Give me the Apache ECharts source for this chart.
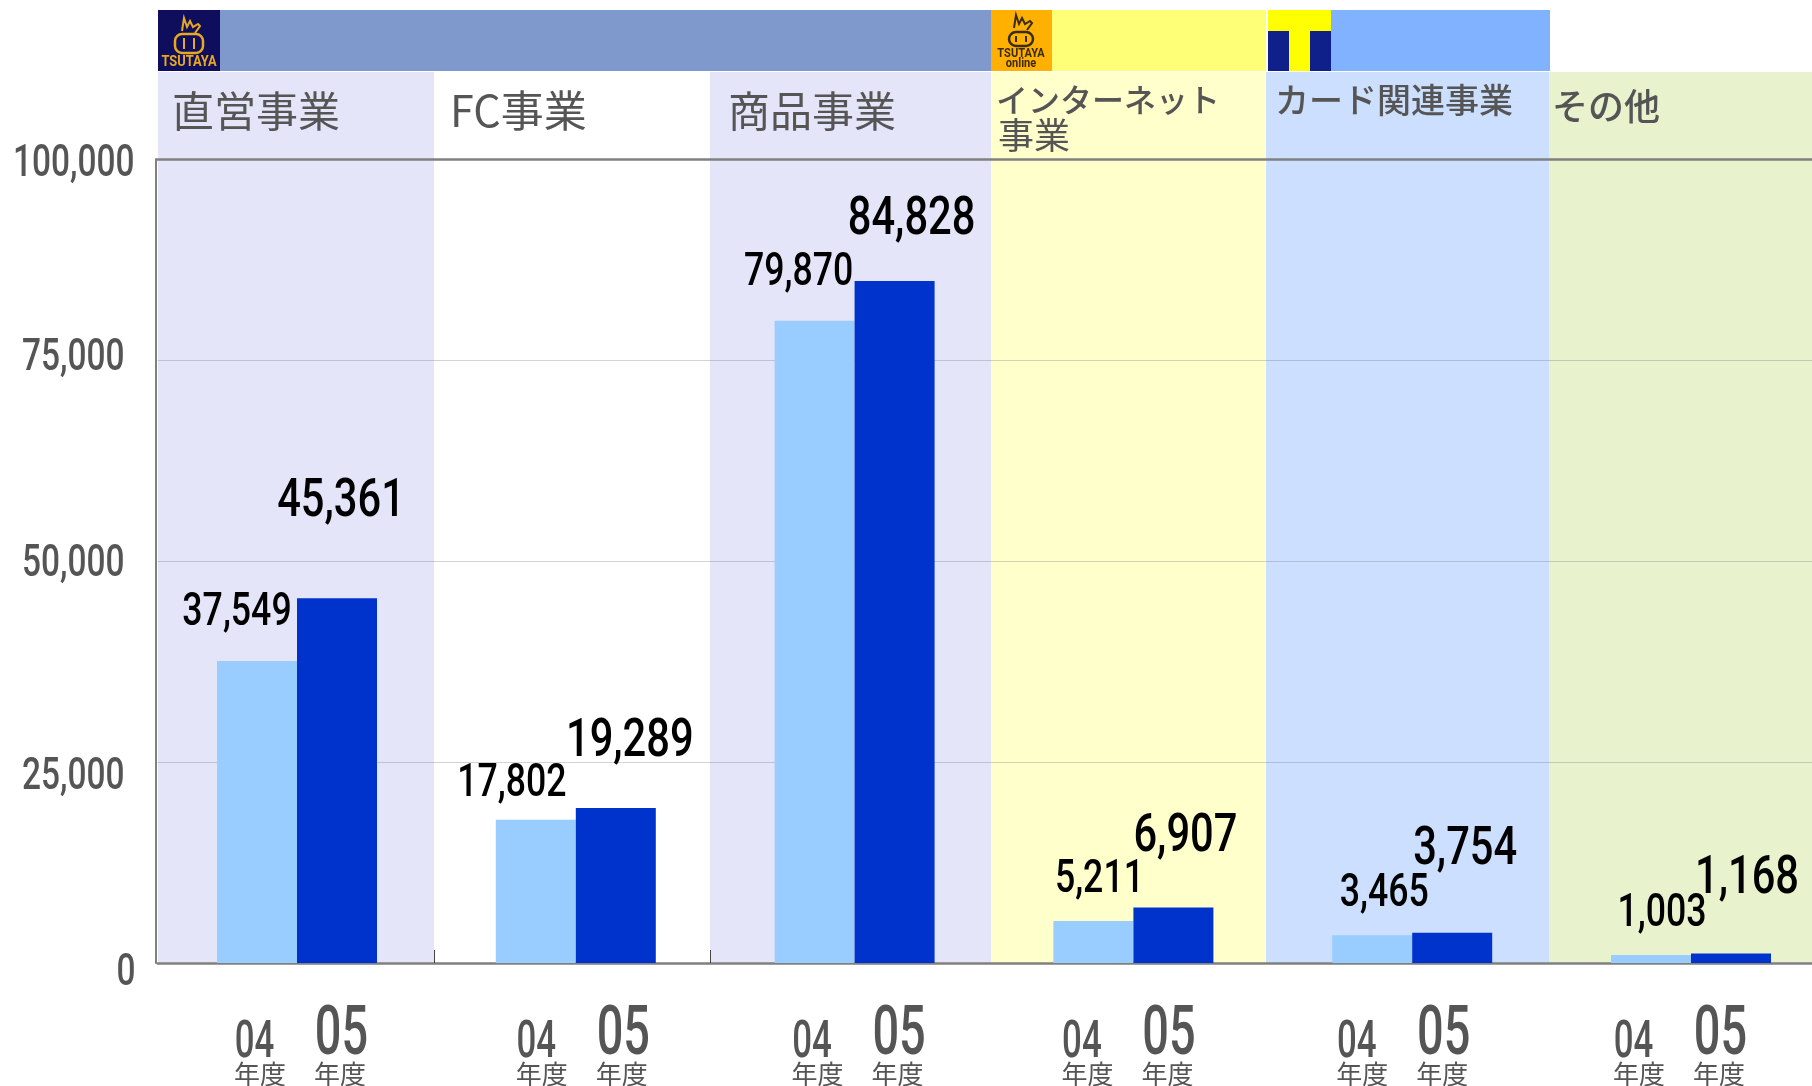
<!DOCTYPE html>
<html>
<head>
<meta charset="utf-8">
<style>
  html, body { margin: 0; padding: 0; background: #fff; }
  #chart { width: 1812px; height: 1086px; overflow: hidden; }
</style>
<script src="https://cdn.jsdelivr.net/npm/echarts@6/dist/echarts.min.js"></script>
</head>
<body>
<div id="chart"></div>
<script>
const categories = ['直営事業', 'FC事業', '商品事業', 'インターネット事業', 'カード関連事業', 'その他']
const values04 = [37549, 17802, 79870, 5211, 3465, 1003]
const values05 = [45361, 19289, 84828, 6907, 3754, 1168]
const years = ['04', '05']
const yearUnit = '年度'
const yTicks = [0, 25000, 50000, 75000, 100000]

// ラベル位置の微調整 [dx, dy]
const offsets04 = [[-20, -48], [-24, -35], [-16, -47], [6, -41], [12, -41], [11, -40]]
const offsets05 = [[4, -96], [14, -65], [17, -60], [12, -70], [13, -82], [16, -74]]
const tickOffsets = [[-22, 11], [-33, 16], [-33, 4], [-33, -1], [-23, 6]]
const yearShift = [1, 4, 1, -8, -12, -14]

const numFont = 'Roboto, sans-serif'
const cjk = '"Noto Sans CJK JP", sans-serif'
const fmt = v => v.toLocaleString('en-US')

const chart = echarts.init(document.getElementById('chart'))

function rect(x, y, w, h, fill, z) {
  return { type: 'rect', shape: { x, y, width: w, height: h }, style: { fill }, z: z === undefined ? -10 : z, silent: true }
}
function head(text, x, y, size, weight) {
  return { type: 'text', x, y, z: 5, silent: true, style: { text, fill: '#555', font: `${weight || 400} ${size}px ${cjk}`, textVerticalAlign: 'middle' } }
}
function logoText(text, cx, y, size, fill) {
  return { type: 'text', x: cx, y, scaleX: 0.92, z: 5, silent: true, style: { text, fill, font: `bold ${size}px ${numFont}`, textAlign: 'center', textVerticalAlign: 'middle' } }
}
function logoMark(cx, top, w, h, sy, color) {
  return [
    { type: 'rect', z: 5, silent: true, shape: { x: cx - w / 2, y: top, width: w, height: h, r: 7 }, style: { fill: 'none', stroke: color, lineWidth: 2.5 } },
    { type: 'line', z: 5, silent: true, shape: { x1: cx - 5, y1: top + 4, x2: cx - 5, y2: top + h - 4 }, style: { stroke: color, lineWidth: 2 } },
    { type: 'line', z: 5, silent: true, shape: { x1: cx + 5, y1: top + 4, x2: cx + 5, y2: top + h - 4 }, style: { stroke: color, lineWidth: 2 } },
    { type: 'polyline', z: 5, silent: true, shape: { points: [[cx - 7, sy + 13], [cx - 5, sy], [cx - 2, sy + 9], [cx + 1, sy + 3], [cx + 4, sy + 9], [cx + 9, sy + 6], [cx + 11, sy + 8], [cx + 6, sy + 15]] }, style: { fill: 'none', stroke: color, lineWidth: 2 } }
  ]
}

const graphics = [
  // 背景の帯
  rect(158, 72, 276, 891, '#E4E5F9'),
  rect(710, 72, 281, 891, '#E4E5F9'),
  rect(991, 72, 274, 891, '#FFFFCC'),
  rect(1266, 72, 283, 891, '#CCDFFF'),
  rect(1549, 72, 263, 891, '#E8F3CE'),
  // 上のバー
  rect(158, 10, 833, 61, '#7F99CC'),
  rect(991, 10, 275, 61, '#FFFF77'),
  rect(1268, 10, 282, 61, '#80B2FF'),
  // ロゴ
  rect(158, 10, 62, 61, '#0E0E5C', 1),
  ...logoMark(189, 34, 28, 19, 18, '#E8A820'),
  logoText('TSUTAYA', 189, 62, 14, '#E8A820'),
  rect(991, 10, 61, 61, '#FFB000', 1),
  ...logoMark(1021, 32, 24, 14, 15, '#3A2A10'),
  logoText('TSUTAYA', 1021, 54, 12, '#3A2A10'),
  logoText('online', 1021, 64, 12, '#3A2A10'),
  rect(1268, 10, 63, 21, '#FFFF00', 1),
  rect(1268, 31, 21, 40, '#10208A', 1),
  rect(1289, 31, 21, 40, '#FFFF00', 1),
  rect(1310, 31, 21, 40, '#10208A', 1),
  // 見出し
  head('直営事業', 172, 111, 42),
  head('FC事業', 450, 111, 43),
  head('商品事業', 728, 111, 42),
  head('インターネット', 996, 100, 32, 500),
  head('事業', 998, 135, 36),
  head('カード関連事業', 1275, 100, 34, 500),
  head('その他', 1552, 106, 36, 500),
  // 小さい目盛り
  { type: 'line', z: 5, silent: true, shape: { x1: 434.5, y1: 950, x2: 434.5, y2: 963 }, style: { stroke: '#444', lineWidth: 1 } },
  { type: 'line', z: 5, silent: true, shape: { x1: 710.5, y1: 950, x2: 710.5, y2: 963 }, style: { stroke: '#444', lineWidth: 1 } }
]

// 細い数字フォントがないので横に縮めて描く
function squeezed(text, x, y, scaleX, font, fill, align) {
  return {
    type: 'text',
    x,
    y,
    scaleX,
    style: { text, fill, font, textAlign: align || 'center', textVerticalAlign: 'middle' }
  }
}

function valueLabels(values, offsets, barDx, size, scaleX) {
  return {
    type: 'custom',
    silent: true,
    z: 10,
    data: values.map((v, i) => [i, v]),
    renderItem: (params, api) => {
      const p = api.coord([api.value(0), api.value(1)])
      const o = offsets[params.dataIndex]
      return squeezed(fmt(api.value(1)), p[0] + barDx + o[0], p[1] + o[1], scaleX, `500 ${size}px ${numFont}`, '#000')
    }
  }
}

chart.setOption({
  animation: false,
  backgroundColor: '#fff',
  graphic: graphics,
  grid: { left: 157.6, right: -18.4, top: 159, bottom: 123, outerBoundsMode: 'none' },
  xAxis: [
    {
      type: 'category',
      data: categories,
      axisLine: { lineStyle: { color: '#808080', width: 2.5 } },
      axisTick: { show: false },
      axisLabel: { show: false }
    },
    {
      // 100,000の線
      type: 'category',
      position: 'top',
      data: categories,
      axisLine: { show: true, lineStyle: { color: '#808080', width: 2.5 } },
      axisTick: { show: false },
      axisLabel: { show: false }
    }
  ],
  yAxis: {
    type: 'value',
    min: yTicks[0],
    max: yTicks[yTicks.length - 1],
    interval: yTicks[1] - yTicks[0],
    offset: 1.5,
    axisLine: { show: true, lineStyle: { color: '#808080', width: 2 } },
    axisTick: { show: false },
    splitLine: { lineStyle: { color: 'rgba(110,110,110,0.3)', width: 1 } },
    axisLabel: { show: false }
  },
  series: [
    {
      name: years[0],
      type: 'bar',
      barWidth: 80,
      barGap: 0,
      itemStyle: { color: '#99CCFF' },
      data: values04
    },
    {
      name: years[1],
      type: 'bar',
      barWidth: 80,
      barGap: 0,
      itemStyle: { color: '#0033CC' },
      data: values05
    },
    valueLabels(values04, offsets04, -40, 46, 0.775),
    valueLabels(values05, offsets05, 40, 53, 0.786),
    {
      // 縦軸の目盛りラベル
      type: 'custom',
      silent: true,
      z: 10,
      data: yTicks.map(v => [0, v]),
      renderItem: (params, api) => {
        const y = api.coord([0, api.value(1)])[1]
        const o = tickOffsets[params.dataIndex]
        return squeezed(fmt(api.value(1)), params.coordSys.x + o[0], y + o[1], 0.76, `500 44px ${numFont}`, '#555', 'right')
      }
    },
    {
      // 横軸の年度ラベル
      type: 'custom',
      silent: true,
      z: 10,
      data: categories.map((c, i) => [i, 0]),
      renderItem: (params, api) => {
        const p = api.coord([api.value(0), 0])
        const cx = p[0] + yearShift[params.dataIndex]
        const unitFont = `26px ${cjk}`
        return {
          type: 'group',
          children: [
            squeezed(years[0], cx - 43.5, p[1] + 81, 0.67, `500 52px ${numFont}`, '#555'),
            squeezed(years[1], cx + 43.5, p[1] + 74, 0.69, `500 68px ${numFont}`, '#555'),
            squeezed(yearUnit, cx - 38, p[1] + 111, 1, unitFont, '#555'),
            squeezed(yearUnit, cx + 42, p[1] + 111, 1, unitFont, '#555')
          ]
        }
      }
    }
  ]
})
</script>
</body>
</html>
